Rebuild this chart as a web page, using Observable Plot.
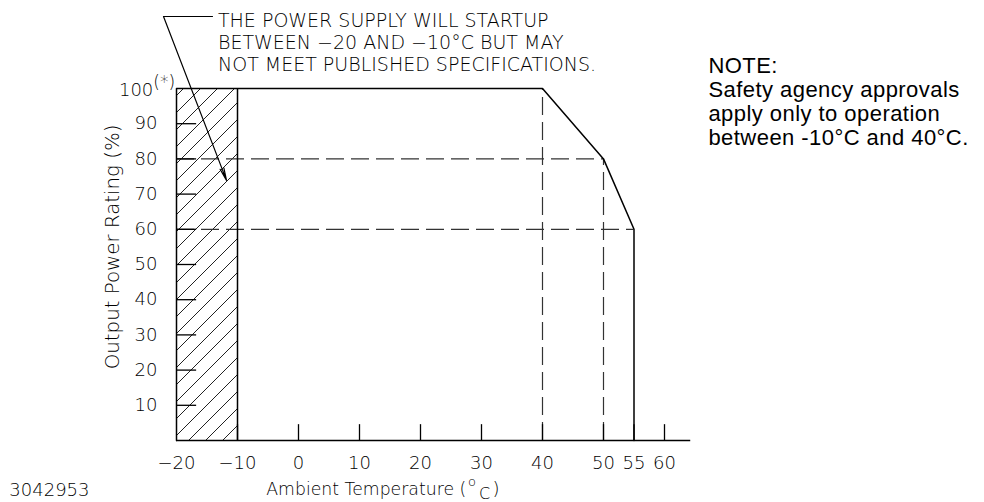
<!DOCTYPE html>
<html><head><meta charset="utf-8">
<script src="https://cdn.jsdelivr.net/npm/d3@7"></script>
<script src="https://cdn.jsdelivr.net/npm/@observablehq/plot@0.6"></script>
<style>
html,body{margin:0;padding:0;background:#fff;}
#chart{width:984px;height:502px;}
</style></head><body><div id="chart"></div>
<script>
// ---- data ----
const curveTemp  = [-20, -20, 40, 50, 55, 55];
const curvePower = [0, 100, 100, 80, 60, 0];
const startupTemp = [-20, -10];          // hatched region (startup only)
const hDashPower = [80, 60];             // horizontal dashed guide levels
const hDashEnd   = [50, 55];
const vDashTemp  = [40, 50];             // vertical dashed guides
const vDashTop   = [100, 80];
const xTickValues = [-20, -10, 0, 10, 20, 30, 40, 50, 55, 60];
const xTickMarks  = [-10, 0, 10, 20, 30, 40, 50, 55, 60];
const yTickValues = [10, 20, 30, 40, 50, 60, 70, 80, 90];
const axisEndTemp = 64.3;
const yTitle = "Output Power Rating (%)";
const xTitleParts = ["Ambient Temperature (", "o", "C", ")"];
const noteText = "NOTE:\nSafety agency approvals\napply only to operation\nbetween -10°C and 40°C.";
const calloutText = "THE POWER SUPPLY WILL STARTUP\nBETWEEN −20 AND −10°C BUT MAY\nNOT MEET PUBLISHED SPECIFICATIONS.";
const docNumber = "3042953";

// annotation anchors (in data units)
const leader = {x0: -14.1, x1: -22.13, y: 120.45, tipX: -11.8, tipY: 73.9};
const calloutAt = {x: -13.2, y: 113.1};
const noteAt = {x: 67.2, y: 96.3};
const yTitleAt = {x: -30.5, y: 55.0};
const docAt = {x: -47.4, y: -14.2};
const xTitleAt = [{x: 27.5, y: -13.9}, {x: 27.8, y: -11.8}, {x: 29.6, y: -15.2}, {x: 31.8, y: -13.9}];
const hundredAt = {x: -23.8, y: 99.4, starY: 101.8};

const curve = curveTemp.map((t, i) => ({t, p: curvePower[i]}));
const band = [{t1: startupTemp[0], t2: startupTemp[1], p1: 0, p2: 100}];
const hDash = hDashPower.map((p, i) => ({p, t1: curveTemp[0], t2: hDashEnd[i]}));
const vDash = vDashTemp.map((t, i) => ({t, p2: vDashTop[i]}));
const ink = "#000";
const cad = "'DejaVu Sans', sans-serif";
const fmt = d => d < 0 ? "−" + Math.abs(d) : String(d);

const plot = Plot.plot({
  width: 984, height: 502,
  marginLeft: 176, marginRight: 320, marginTop: 88, marginBottom: 62,
  x: {domain: [-20, 60]},
  y: {domain: [0, 100]},
  style: {fontFamily: cad, fontWeight: 200, background: "white", color: ink, overflow: "visible"},
  marks: [
    Plot.rect(band, {x1: "t1", x2: "t2", y1: "p1", y2: "p2", fill: "url(#hatch)"}),
    Plot.ruleY(hDash, {y: "p", x1: "t1", x2: "t2", stroke: "#333", strokeWidth: 1.2, strokeDasharray: "18,7"}),
    Plot.ruleX(vDash, {x: "t", y1: 0, y2: "p2", stroke: "#333", strokeWidth: 1.2, strokeDasharray: "18,7"}),
    Plot.ruleX([startupTemp[1]], {x: d => d, y1: 0, y2: 100, stroke: ink, strokeWidth: 1.5}),
    Plot.ruleX(xTickMarks, {x: d => d, y1: 0, y2: 4.5, stroke: ink, strokeWidth: 1.3}),
    Plot.ruleY(yTickValues, {y: d => d, x1: -20, x2: -16.7, stroke: ink, strokeWidth: 1.3}),
    Plot.ruleY([0], {x1: -20, x2: axisEndTemp, stroke: ink, strokeWidth: 1.5}),
    Plot.line(curve, {x: "t", y: "p", stroke: ink, strokeWidth: 1.5}),
    Plot.axisX(xTickValues, {tickSize: 0, tickPadding: 16, fontSize: 18, tickFormat: fmt, label: null, fill: ink}),
    Plot.axisY(yTickValues, {tickSize: 0, tickPadding: 19, fontSize: 18, label: null, fill: ink}),
    Plot.text(["100"], {x: hundredAt.x, y: hundredAt.y, textAnchor: "end", fontSize: 18, fill: ink}),
    Plot.text(["(*)"], {x: hundredAt.x, y: hundredAt.starY, textAnchor: "start", fontSize: 17, fill: ink}),
    Plot.text([yTitle], {x: yTitleAt.x, y: yTitleAt.y, rotate: -90, fontSize: 19.8, fill: ink}),
    Plot.text([xTitleParts[0]], {x: xTitleAt[0].x, y: xTitleAt[0].y, textAnchor: "end", fontSize: 17.3, fill: ink}),
    Plot.text([xTitleParts[1]], {x: xTitleAt[1].x, y: xTitleAt[1].y, textAnchor: "start", fontSize: 13, fill: ink}),
    Plot.text([xTitleParts[2]], {x: xTitleAt[2].x, y: xTitleAt[2].y, textAnchor: "start", fontSize: 16, fill: ink}),
    Plot.text([xTitleParts[3]], {x: xTitleAt[3].x, y: xTitleAt[3].y, textAnchor: "start", fontSize: 18, fill: ink}),
    Plot.text([docNumber], {x: docAt.x, y: docAt.y, textAnchor: "start", fontSize: 18, fill: ink}),
    Plot.line([[leader.x0, leader.y], [leader.x1, leader.y]], {stroke: ink, strokeWidth: 1.2}),
    Plot.arrow([leader], {x1: "x1", y1: "y", x2: "tipX", y2: "tipY", stroke: ink, strokeWidth: 1.2, headLength: 16, headAngle: 18}),
    Plot.text([calloutText], {x: calloutAt.x, y: calloutAt.y, textAnchor: "start", fontSize: 19, lineHeight: 1.16, fill: ink}),
    Plot.text([noteText], {x: noteAt.x, y: noteAt.y, textAnchor: "start", fontSize: 22, lineHeight: 1.09,
      fontFamily: "'Liberation Sans', Arial, sans-serif", fontWeight: 400, fill: "#000"})
  ]
});

d3.select(plot).insert("defs", ":first-child").html(
  `<pattern id="hatch" patternUnits="userSpaceOnUse" width="17" height="17">
     <path d="M0,17 L17,0 M-2,2 L2,-2 M15,19 L19,15" stroke="#222" stroke-width="1"/>
   </pattern>`);
d3.select(plot).selectAll("text").filter(function() { return this.textContent.startsWith("NOTE:"); })
  .style("letter-spacing", "0.45px");
document.getElementById("chart").appendChild(plot);
</script></body></html>
